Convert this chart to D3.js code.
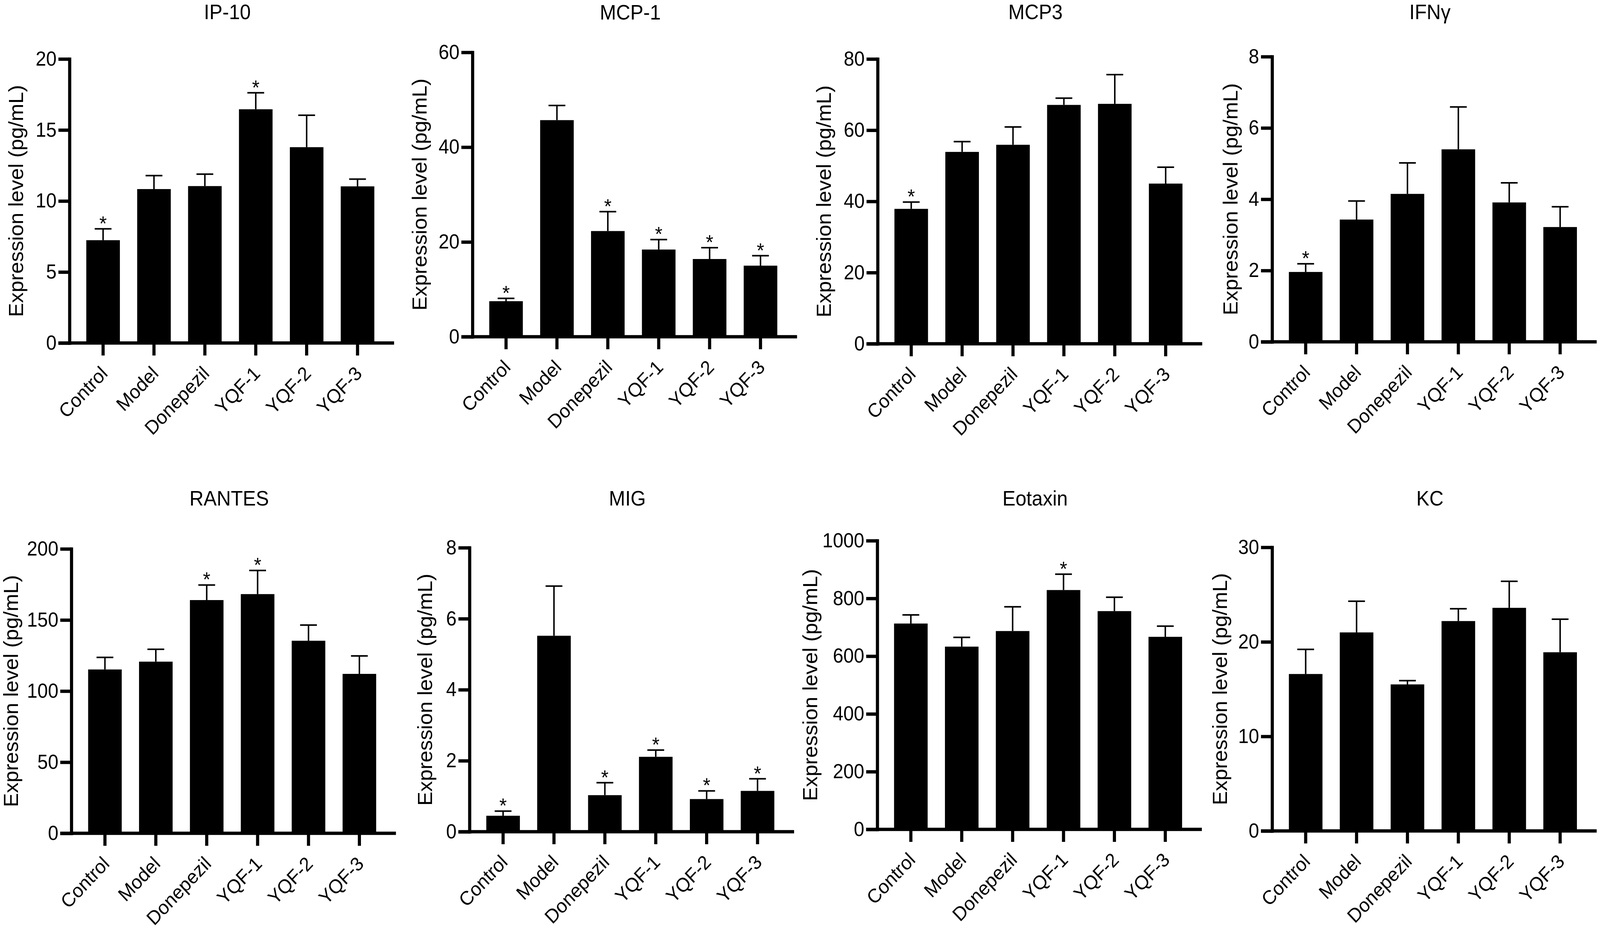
<!DOCTYPE html>
<html>
<head>
<meta charset="utf-8">
<script src="https://cdn.jsdelivr.net/npm/d3@7"></script>
<style>
    html, body { margin: 0; padding: 0; background: #fff; width: 100%; height: 100%; overflow: hidden; }
    svg { display: block; width: 100vw; height: 100vh; font-family: "Liberation Sans", Arial, sans-serif; }
</style>
</head>
<body>
<svg id="chart" viewBox="0 0 4328 2378" preserveAspectRatio="none"></svg>
<script>
/**
 * Data.
 */
const groups = ['Control', 'Model', 'Donepezil', 'YQF-1', 'YQF-2', 'YQF-3'];
const titles = ['IP-10', 'MCP-1', 'MCP3', 'IFNγ', 'RANTES', 'MIG', 'Eotaxin', 'KC'];
const yMax = [20, 60, 80, 8, 200, 8, 1000, 30];
const yStep = [5, 20, 20, 2, 50, 2, 200, 10];

const ip10 = [7.24, 10.84, 11.05, 16.46, 13.79, 11.03];
const ip10Sem = [0.80, 0.95, 0.84, 1.16, 2.25, 0.51];
const ip10Sig = [1, 0, 0, 1, 0, 0];

const mcp1 = [7.5, 45.7, 22.3, 18.4, 16.4, 15.0];
const mcp1Sem = [0.6, 3.1, 4.1, 2.1, 2.4, 2.1];
const mcp1Sig = [1, 0, 1, 1, 1, 1];

const mcp3 = [37.9, 53.9, 55.9, 67.1, 67.4, 45.0];
const mcp3Sem = [1.9, 2.9, 5.0, 1.9, 8.2, 4.6];
const mcp3Sig = [1, 0, 0, 0, 0, 0];

const ifng = [1.96, 3.43, 4.15, 5.40, 3.91, 3.22];
const ifngSem = [0.23, 0.52, 0.87, 1.19, 0.55, 0.57];
const ifngSig = [1, 0, 0, 0, 0, 0];

const rantes = [115.2, 120.7, 164.0, 168.2, 135.4, 112.1];
const rantesSem = [8.5, 8.7, 10.6, 16.6, 11.0, 12.6];
const rantesSig = [0, 0, 1, 1, 0, 0];

const mig = [0.45, 5.52, 1.03, 2.11, 0.92, 1.15];
const migSem = [0.13, 1.40, 0.35, 0.19, 0.23, 0.34];
const migSig = [1, 0, 1, 1, 1, 1];

const eotaxin = [713, 633, 687, 829, 756, 667];
const eotaxinSem = [30, 32, 84, 55, 48, 37];
const eotaxinSig = [0, 0, 0, 1, 0, 0];

const kc = [16.6, 21.0, 15.5, 22.2, 23.6, 18.9];
const kcSem = [2.6, 3.3, 0.4, 1.3, 2.8, 3.5];
const kcSig = [0, 0, 0, 0, 0, 0];

const means = [ip10, mcp1, mcp3, ifng, rantes, mig, eotaxin, kc];
const sems = [ip10Sem, mcp1Sem, mcp3Sem, ifngSem, rantesSem, migSem, eotaxinSem, kcSem];
const sigs = [ip10Sig, mcp1Sig, mcp3Sig, ifngSig, rantesSig, migSig, eotaxinSig, kcSig];

const yLabel = 'Expression level (pg/mL)';

/**
 * Layout (per panel: y-axis x, top, zero line, title baseline, y-label distance).
 */
const panelX = [188, 1278, 2374, 3441, 193, 1270, 2373, 3441];
const panelTop = [151, 134, 151, 145, 1405, 1402, 1384, 1401];
const panelBottom = [878, 862, 880, 875, 2133, 2129, 2123, 2127];
const titleY = [49, 50, 49, 49, 1294, 1294, 1294, 1294];
const labelDist = [140, 138, 140, 108, 158, 115, 177, 136];

const axisWidth = 878,
    tickFont = 51,
    labelFont = 50,
    axisStroke = 8.5,
    tickLen = 30;

const svg = d3.select('#chart');

svg.append('rect').attr('width', 4328).attr('height', 2378).attr('fill', '#fff');

titles.forEach((title, i) => drawPanel(i));

/**
 * Draws one bar chart panel.
 */
function drawPanel(i) {
    const height = panelBottom[i] - panelTop[i];
    const g = svg.append('g')
        .attr('transform', 'translate(' + panelX[i] + ',' + panelTop[i] + ')');

    const x = d3.scaleBand()
        .domain(groups)
        .range([0, 870])
        .paddingInner(0.34)
        .paddingOuter(0.33);

    const y = d3.scaleLinear()
        .domain([0, yMax[i]])
        .range([height, 0]);

    const rows = groups.map((name, k) => ({ name: name, mean: means[i][k], sem: sems[i][k], sig: sigs[i][k] }));

    // Bars
    g.append('g').selectAll('rect')
        .data(rows)
        .join('rect')
        .attr('x', d => x(d.name))
        .attr('y', d => y(d.mean))
        .attr('width', x.bandwidth())
        .attr('height', d => y(0) - y(d.mean))
        .attr('fill', '#000');

    // Error bars (upper only)
    const err = g.append('g').attr('stroke', '#000').attr('stroke-width', 4);
    const cx = d => x(d.name) + x.bandwidth() / 2;
    const cap = x.bandwidth() / 2;

    err.selectAll('line.stem')
        .data(rows)
        .join('line').attr('class', 'stem')
        .attr('x1', cx).attr('x2', cx)
        .attr('y1', d => y(d.mean)).attr('y2', d => y(d.mean + d.sem));

    err.selectAll('line.cap')
        .data(rows)
        .join('line').attr('class', 'cap')
        .attr('x1', d => cx(d) - cap / 2).attr('x2', d => cx(d) + cap / 2)
        .attr('y1', d => y(d.mean + d.sem)).attr('y2', d => y(d.mean + d.sem));

    // Significance stars
    g.append('g').selectAll('text')
        .data(rows.filter(d => d.sig))
        .join('text')
        .attr('x', cx)
        .attr('y', d => y(d.mean + d.sem) + 4)
        .attr('text-anchor', 'middle')
        .attr('font-size', 52)
        .text('*');

    // X axis
    const xAxis = g.append('g')
        .attr('transform', 'translate(0,' + height + ')')
        .call(d3.axisBottom(x).tickSize(32).tickSizeOuter(0));

    xAxis.select('.domain').remove();
    xAxis.append('line')
        .attr('x1', -tickLen).attr('x2', axisWidth)
        .attr('stroke', '#000')
        .attr('stroke-width', axisStroke);
    xAxis.selectAll('.tick line').attr('stroke-width', axisStroke);
    xAxis.selectAll('.tick text')
        .attr('x', 0).attr('y', 0).attr('dy', 0)
        .attr('transform', 'translate(15,81) rotate(-45)')
        .attr('text-anchor', 'end')
        .attr('fill', '#000')
        .attr('font-size', labelFont)
        .attr('font-family', null);

    // Y axis
    const yAxis = g.append('g')
        .call(d3.axisLeft(y)
            .tickValues(d3.range(0, yMax[i] + yStep[i] / 2, yStep[i]))
            .tickFormat(d3.format('d'))
            .tickSize(tickLen)
            .tickPadding(5)
            .tickSizeOuter(0));

    yAxis.select('.domain')
        .attr('stroke-width', axisStroke)
        .attr('stroke-linecap', 'square');
    yAxis.selectAll('.tick line').attr('stroke-width', axisStroke);
    yAxis.selectAll('.tick text')
        .attr('fill', '#000')
        .attr('font-size', tickFont)
        .attr('font-family', null);

    // Y label
    g.append('text')
        .attr('transform', 'translate(' + (-labelDist[i] + 14) + ',' + (height / 2) + ') rotate(-90)')
        .attr('text-anchor', 'middle')
        .attr('font-size', 54)
        .text(yLabel);

    // Title
    svg.append('text')
        .attr('x', panelX[i] + 427)
        .attr('y', titleY[i])
        .attr('text-anchor', 'middle')
        .attr('font-size', 53)
        .text(titles[i]);
}
</script>
</body>
</html>
